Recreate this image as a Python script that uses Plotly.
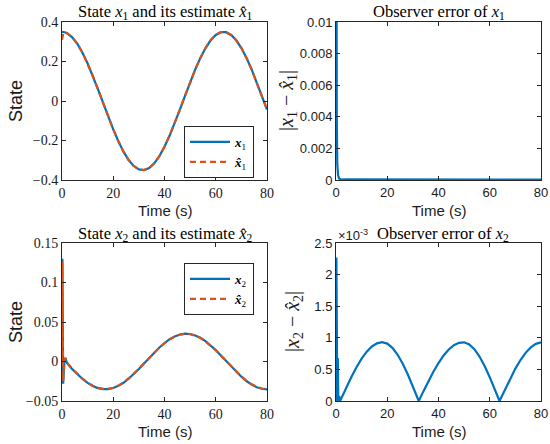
import plotly.graph_objects as go

# ---------------- data ----------------
t_state = [0, 0.3, 0.6, 1, 2, 4, 6, 8, 10, 12, 14, 16, 18, 20, 22, 24, 26, 28, 30,
           32, 34, 36, 38, 40, 42, 44, 46, 48, 50, 52, 54, 56, 58, 60, 62, 64, 66,
           68, 70, 72, 74, 76, 78, 80]
x1 = [0.350, 0.3498, 0.3497, 0.3483, 0.343, 0.3225, 0.289, 0.2444, 0.190, 0.128,
      0.0608, -0.0087, -0.0779, -0.144, -0.204, -0.2566, -0.2987, -0.3289, -0.3461,
      -0.3496, -0.3392, -0.3153, -0.279, -0.2316, -0.175, -0.1115, -0.0435, 0.0261,
      0.0948, 0.1597, 0.2182, 0.2681, 0.3074, 0.3345, 0.3483, 0.3483, 0.3345, 0.3074,
      0.2681, 0.2182, 0.1597, 0.0948, 0.0261, -0.0435]
x1_hat = [0.310, 0.345, 0.3493, 0.3482, 0.343, 0.3225, 0.289, 0.2444, 0.190, 0.128,
          0.0608, -0.0087, -0.0779, -0.144, -0.204, -0.2566, -0.2987, -0.3289, -0.3461,
          -0.3496, -0.3392, -0.3153, -0.279, -0.2316, -0.175, -0.1115, -0.0435, 0.0261,
          0.0948, 0.1597, 0.2182, 0.2681, 0.3074, 0.3345, 0.3483, 0.3483, 0.3345, 0.3074,
          0.2681, 0.2182, 0.1597, 0.0948, 0.0261, -0.0435]

t_x2 = [0, 0.15, 0.3, 0.45, 0.7, 0.95, 1.3, 2, 4, 6, 8, 10, 12, 14, 16, 18, 20, 22,
        24, 26, 28, 30, 32, 34, 36, 38, 40, 42, 44, 46, 48, 50, 52, 54, 56, 58, 60,
        62, 64, 66, 68, 70, 72, 74, 76, 78, 80]
x2 = [0.0, 0.13, 0.05, -0.028, -0.012, 0.0, 0.004, -0.002, -0.0097, -0.0162, -0.0221,
      -0.0271, -0.0310, -0.0337, -0.0350, -0.0350, -0.0336, -0.0308, -0.0269, -0.0218,
      -0.0159, -0.0094, -0.0025, 0.0045, 0.0113, 0.0177, 0.0234, 0.0282, 0.0318,
      0.0342, 0.0352, 0.0348, 0.0330, 0.0300, 0.0257, 0.0205, 0.0145, 0.0077, 0.0007,
      -0.0063, -0.0130, -0.0192, -0.0247, -0.0292, -0.0325, -0.0345, -0.0352]
x2_hat = [0.0, 0.127, 0.046, -0.025, -0.010, 0.001, 0.005, -0.0015, -0.0094, -0.0159,
          -0.0217, -0.0267, -0.0306, -0.0333, -0.0346, -0.0347, -0.0333, -0.0305,
          -0.0266, -0.0215, -0.0156, -0.0092, -0.0024, 0.0044, 0.0110, 0.0174, 0.0231,
          0.0279, 0.0315, 0.0339, 0.0349, 0.0345, 0.0327, 0.0297, 0.0254, 0.0202,
          0.0143, 0.0075, 0.0007, -0.0061, -0.0127, -0.0189, -0.0244, -0.0289, -0.0322,
          -0.0342, -0.0349]

t_err1 = [0, 0.1, 0.2, 0.3, 0.5, 0.8, 1.2, 2, 4, 6, 8, 10, 12, 14, 16, 18, 20, 22, 24,
          26, 28, 30, 32, 34, 36, 38, 40, 42, 44, 46, 48, 50, 52, 54, 56, 58, 60, 62,
          64, 66, 68, 70, 72, 74, 76, 78, 80]
err1 = [0.04, 0.02, 0.009, 0.004, 0.001, 0.0003, 0.0001, 0.00003, 0.00004, 0.00004,
        0.00004, 0.00004, 0.00004, 0.00003, 0.00003, 0.00002, 0.00002, 0.00001,
        0.00001, 0.0, 0.00001, 0.00001, 0.00002, 0.00003, 0.00003, 0.00004, 0.00004,
        0.00004, 0.00004, 0.00003, 0.00003, 0.00002, 0.00002, 0.00001, 0.00001, 0.0,
        0.00001, 0.00001, 0.00002, 0.00003, 0.00003, 0.00004, 0.00004, 0.00004,
        0.00004, 0.00003, 0.00003]

t_err2 = [0, 0.15, 0.35, 0.5, 0.7, 0.9, 1.2, 1.6, 2, 4, 6, 8, 10, 12, 14, 16, 18, 20,
          22, 24, 26, 28, 30, 32, 32.3, 34, 36, 38, 40, 42, 44, 46, 48, 49.5, 50, 52,
          54, 56, 58, 60, 62, 63.8, 64, 66, 68, 70, 72, 74, 76, 78, 80]
err2_e3 = [0.0, 2.27, 1.0, 0.0, 0.68, 0.0, 0.08, 0.0, 0.036, 0.212, 0.380, 0.535,
           0.670, 0.781, 0.863, 0.913, 0.930, 0.908, 0.842, 0.735, 0.593, 0.423, 0.232,
           0.031, 0.0, 0.144, 0.308, 0.463, 0.601, 0.720, 0.815, 0.883, 0.921, 0.930,
           0.929, 0.895, 0.819, 0.703, 0.553, 0.377, 0.183, 0.0, 0.017, 0.191, 0.358,
           0.512, 0.648, 0.762, 0.848, 0.904, 0.929]

x_ticks = [0, 20, 40, 60, 80]
y1_ticks = [-0.4, -0.2, 0, 0.2, 0.4]
y2_ticks = [0, 0.002, 0.004, 0.006, 0.008, 0.01]
y3_ticks = [-0.05, 0, 0.05, 0.1, 0.15]
y4_ticks = [0, 0.5, 1, 1.5, 2, 2.5]

BLUE = "#0072BD"
ORANGE = "#D95319"
SERIF = "Liberation Serif"
SANS = "Liberation Sans"
AX = "#262626"

fig = go.Figure()

# top-left
fig.add_trace(go.Scatter(x=t_state, y=x1, mode="lines", name="<b><i>x</i></b><sub>1</sub>",
                         line=dict(color=BLUE, width=2.2), xaxis="x", yaxis="y",
                         legend="legend"))
fig.add_trace(go.Scatter(x=t_state, y=x1_hat, mode="lines",
                         name="<b><i>x̂</i></b><sub>1</sub>",
                         line=dict(color=ORANGE, width=2.2, dash="6px,4px"),
                         xaxis="x", yaxis="y", legend="legend"))
# top-right
fig.add_trace(go.Scatter(x=t_err1, y=err1, mode="lines", showlegend=False,
                         line=dict(color=BLUE, width=2.2), xaxis="x2", yaxis="y2"))
# bottom-left
fig.add_trace(go.Scatter(x=t_x2, y=x2, mode="lines", name="<b><i>x</i></b><sub>2</sub>",
                         line=dict(color=BLUE, width=2.2), xaxis="x3", yaxis="y3",
                         legend="legend2"))
fig.add_trace(go.Scatter(x=t_x2, y=x2_hat, mode="lines",
                         name="<b><i>x̂</i></b><sub>2</sub>",
                         line=dict(color=ORANGE, width=2.2, dash="6px,4px"),
                         xaxis="x3", yaxis="y3", legend="legend2"))
# bottom-right
fig.add_trace(go.Scatter(x=t_err2, y=err2_e3, mode="lines", showlegend=False,
                         line=dict(color=BLUE, width=2.2), xaxis="x4", yaxis="y4"))

XL = [62 / 550, 267 / 550]
XR = [336 / 550, 541 / 550]
YT = [1 - 180 / 444, 1 - 22 / 444]
YB = [1 - 401 / 444, 1 - 243 / 444]


def axis(domain, rng, ticks, anchor, font, **kw):
    d = dict(domain=domain, range=rng, tickvals=ticks, anchor=anchor,
             showline=True, linecolor=AX, linewidth=1, mirror="ticks",
             ticks="inside", ticklen=4, tickcolor=AX, showgrid=False,
             zeroline=False, automargin=False,
             tickfont=dict(family=font, size=14 if font == SERIF else 13,
                           color="#1a1a1a"),
             fixedrange=True)
    d.update(kw)
    return d


legend_style = dict(xanchor="left", yanchor="top", bgcolor="white", bordercolor=AX,
                    borderwidth=1, itemwidth=40, tracegroupgap=0,
                    font=dict(family=SERIF, size=13, color="black"))

fig.update_layout(
    width=550, height=444,
    margin=dict(l=0, r=0, t=0, b=0, autoexpand=False),
    paper_bgcolor="white", plot_bgcolor="white",
    xaxis=axis(XL, [0, 80], x_ticks, "y", SERIF),
    yaxis=axis(YT, [-0.4, 0.4], y1_ticks, "x", SERIF),
    xaxis2=axis(XR, [0, 80], x_ticks, "y2", SANS),
    yaxis2=axis(YT, [0, 0.01], y2_ticks, "x2", SANS,
                ticktext=["0", "0.002", "0.004", "0.006", "0.008", "0.01"]),
    xaxis3=axis(XL, [0, 80], x_ticks, "y3", SERIF),
    yaxis3=axis(YB, [-0.05, 0.15], y3_ticks, "x3", SERIF,
                ticktext=["−0.05", "0", "0.05", "0.1", "0.15"]),
    xaxis4=axis(XR, [0, 80], x_ticks, "y4", SANS),
    yaxis4=axis(YB, [0, 2.5], y4_ticks, "x4", SANS,
                ticktext=["0", "0.5", "1", "1.5", "2", "2.5"]),
    legend=dict(x=184 / 550, y=1 - 126 / 444, **legend_style),
    legend2=dict(x=184 / 550, y=1 - 263 / 444, **legend_style),
)

annos = []
# titles
annos.append(dict(text="State <i>x</i><sub>1</sub> and its estimate <i>x̂</i><sub>1</sub>",
                  x=(XL[0] + XL[1]) / 2, y=1 - 12 / 444))
annos.append(dict(text="Observer error of <i>x</i><sub>1</sub>",
                  x=(XR[0] + XR[1]) / 2, y=1 - 12 / 444))
annos.append(dict(text="State <i>x</i><sub>2</sub> and its estimate <i>x̂</i><sub>2</sub>",
                  x=(XL[0] + XL[1]) / 2, y=1 - 234 / 444))
annos.append(dict(text="Observer error of <i>x</i><sub>2</sub>",
                  x=(XR[0] + XR[1]) / 2 + 4 / 550, y=1 - 234 / 444))
for a in annos:
    a.update(xref="paper", yref="paper", showarrow=False, xanchor="center",
             yanchor="middle", font=dict(family=SERIF, size=16.5, color="black"))

extra = []
# x-axis titles
for xd, yc in [(XL, 210), (XR, 210), (XL, 431), (XR, 431)]:
    extra.append(dict(text="Time (s)", x=(xd[0] + xd[1]) / 2, y=1 - yc / 444,
                      font=dict(family=SANS, size=15, color="#1a1a1a")))
# y-axis titles
extra.append(dict(text="State", x=16 / 550, y=(YT[0] + YT[1]) / 2, textangle=-90,
                  font=dict(family=SANS, size=18, color="#1a1a1a")))
extra.append(dict(text="State", x=16 / 550, y=(YB[0] + YB[1]) / 2, textangle=-90,
                  font=dict(family=SANS, size=18, color="#1a1a1a")))
extra.append(dict(text="|<i>x</i><sub>1</sub> − <i>x̂</i><sub>1</sub>|", x=287 / 550,
                  y=(YT[0] + YT[1]) / 2, textangle=-90,
                  font=dict(family=SERIF, size=20, color="#1a1a1a")))
extra.append(dict(text="|<i>x</i><sub>2</sub> − <i>x̂</i><sub>2</sub>|", x=294 / 550,
                  y=(YB[0] + YB[1]) / 2, textangle=-90,
                  font=dict(family=SERIF, size=20, color="#1a1a1a")))
extra.append(dict(text="×10<sup>-3</sup>", x=336 / 550, y=1 - 235 / 444, xanchor="left",
                  font=dict(family=SANS, size=13, color="#1a1a1a")))
for a in extra:
    a.setdefault("xanchor", "center")
    a.update(xref="paper", yref="paper", showarrow=False, yanchor="middle")

fig.update_layout(annotations=annos + extra)

fig.write_html("out.html", post_script="document.body.style.margin='0';",
               config={"displayModeBar": False})
